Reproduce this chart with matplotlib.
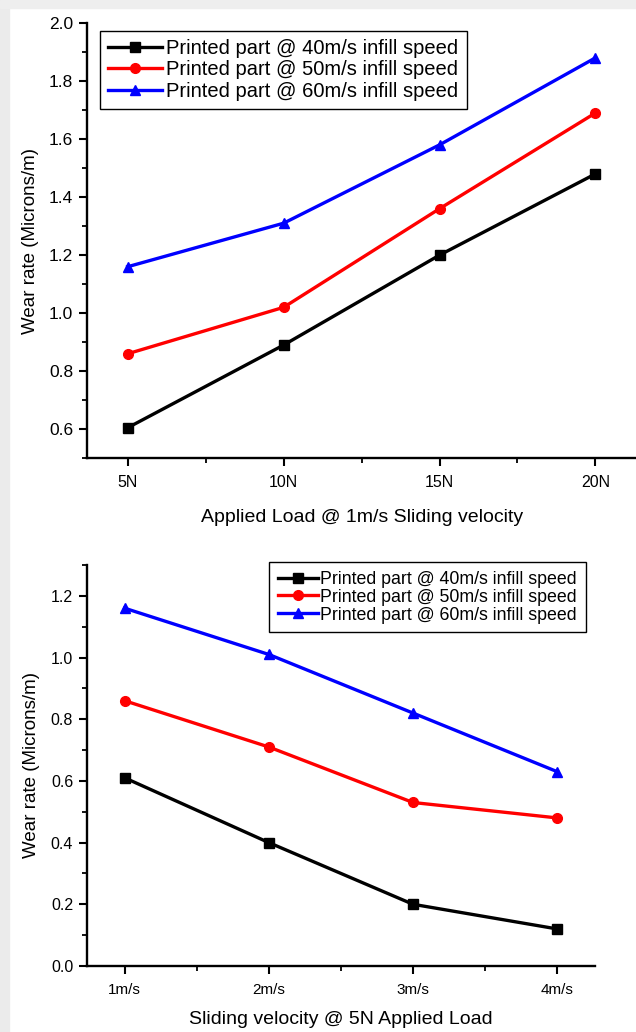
import matplotlib.pyplot as plt
from matplotlib.patches import Rectangle
from matplotlib.ticker import MultipleLocator

plt.rcParams['font.family'] = ['Liberation Sans', 'DejaVu Sans']

# data
load_labels = ["5N", "10N", "15N", "20N"]
load_x = [5, 10, 15, 20]
load_40 = [0.605, 0.89, 1.20, 1.48]
load_50 = [0.86, 1.02, 1.36, 1.69]
load_60 = [1.16, 1.31, 1.58, 1.88]

vel_labels = ["1m/s", "2m/s", "3m/s", "4m/s"]
vel_x = [1, 2, 3, 4]
vel_40 = [0.61, 0.40, 0.20, 0.12]
vel_50 = [0.86, 0.71, 0.53, 0.48]
vel_60 = [1.16, 1.01, 0.82, 0.63]

series_names = ["Printed part @ 40m/s infill speed",
                "Printed part @ 50m/s infill speed",
                "Printed part @ 60m/s infill speed"]
colors = ["black", "red", "blue"]
markers = ["s", "o", "^"]

fig = plt.figure(figsize=(6.36, 10.32), dpi=100)
# grey shadow border on left / top
fig.patches.append(Rectangle((0, 0), 0.014, 1, transform=fig.transFigure,
                             color='#ebebeb', zorder=0))
fig.patches.append(Rectangle((0, 0.992), 1, 0.008, transform=fig.transFigure,
                             color='#eeeeee', zorder=0))


def style_axes(ax, ysize, xsize):
    for s in ['top', 'right']:
        ax.spines[s].set_visible(False)
    for s in ['left', 'bottom']:
        ax.spines[s].set_linewidth(1.7)
    ax.tick_params(which='major', direction='out', length=6, width=1.5, pad=4)
    ax.tick_params(which='minor', direction='out', length=3.5, width=1.3)
    ax.tick_params(axis='y', labelsize=ysize)
    ax.tick_params(axis='x', labelsize=xsize, pad=6)


# (1) applied load
ax1 = fig.add_axes([0.137, 0.556, 0.863, 0.4217])
for ys, name, c, m in zip([load_40, load_50, load_60], series_names, colors, markers):
    ax1.plot(load_x, ys, color=c, marker=m, lw=2.4, ms=7, label=name, clip_on=False)
ax1.set_xlim(3.7, 21.3)
ax1.set_ylim(0.5, 2.0)
ax1.set_xticks(load_x)
ax1.set_xticklabels(load_labels)
ax1.xaxis.set_minor_locator(MultipleLocator(2.5))
ax1.set_yticks([0.6, 0.8, 1.0, 1.2, 1.4, 1.6, 1.8, 2.0])
ax1.yaxis.set_minor_locator(MultipleLocator(0.1))
style_axes(ax1, 12.5, 11.5)
ax1.set_xlabel("Applied Load @ 1m/s Sliding velocity", fontsize=14, labelpad=14)
ax1.set_ylabel("Wear rate (Microns/m)", fontsize=13.5, labelpad=7)
leg1 = ax1.legend(loc='upper left', bbox_to_anchor=(0.005, 1.005), fontsize=14.5,
                  numpoints=1, handlelength=2.7, handletextpad=0.2,
                  borderpad=0.4, labelspacing=0.12, fancybox=False,
                  edgecolor='black', framealpha=1)
leg1.get_frame().set_linewidth(1.0)

# (2) sliding velocity
ax2 = fig.add_axes([0.137, 0.064, 0.798, 0.3885])
for ys, name, c, m in zip([vel_40, vel_50, vel_60], series_names, colors, markers):
    ax2.plot(vel_x, ys, color=c, marker=m, lw=2.4, ms=7, label=name, clip_on=False)
ax2.set_xlim(0.74, 4.26)
ax2.set_ylim(0.0, 1.3)
ax2.set_xticks(vel_x)
ax2.set_xticklabels(vel_labels)
ax2.xaxis.set_minor_locator(MultipleLocator(0.5))
ax2.set_yticks([0.0, 0.2, 0.4, 0.6, 0.8, 1.0, 1.2])
ax2.yaxis.set_minor_locator(MultipleLocator(0.1))
style_axes(ax2, 11.5, 11)
ax2.set_xlabel("Sliding velocity @ 5N Applied Load", fontsize=14, labelpad=10)
ax2.set_ylabel("Wear rate (Microns/m)", fontsize=13.5, labelpad=8)
leg2 = ax2.legend(loc='upper right', bbox_to_anchor=(1.0, 1.03), fontsize=12.8,
                  numpoints=1, handlelength=2.3, handletextpad=0.1,
                  borderpad=0.5, labelspacing=0.05, fancybox=False,
                  edgecolor='black', framealpha=1)
leg2.get_frame().set_linewidth(1.0)

fig.savefig("out.png", dpi=100)
